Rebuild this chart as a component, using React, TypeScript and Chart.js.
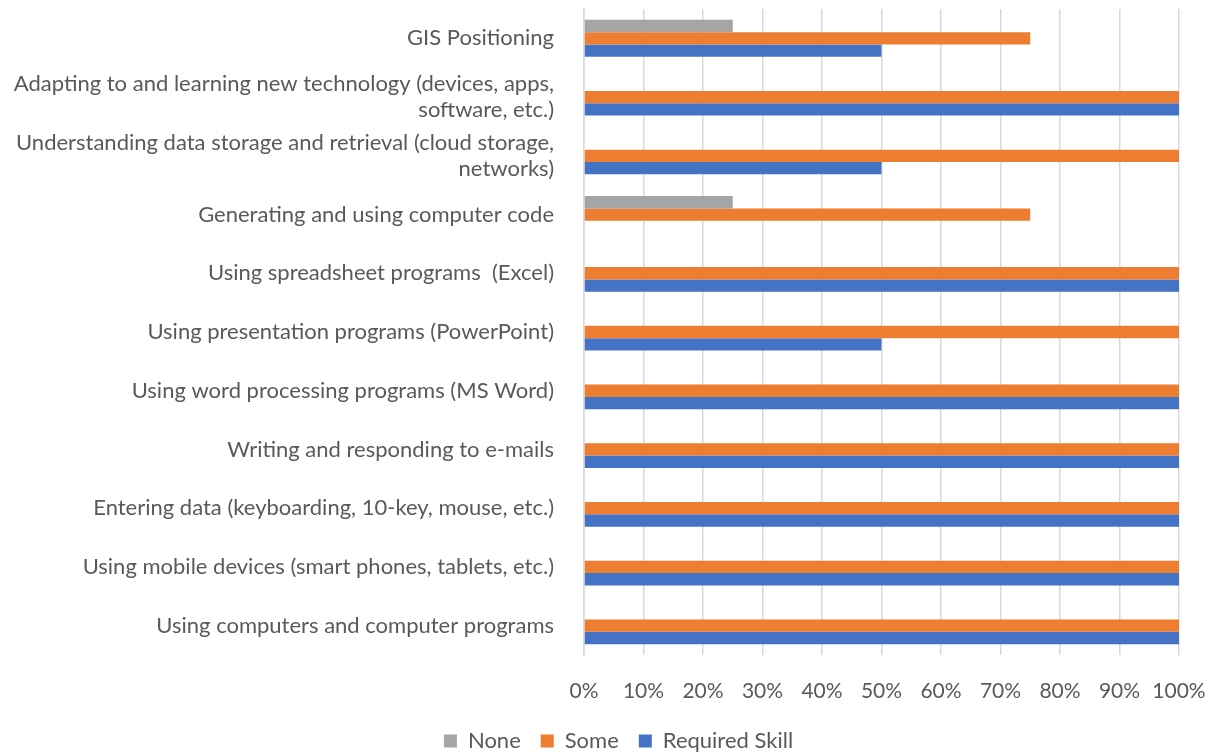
import React, { useEffect, useRef } from "react";
import { Chart, registerables } from "chart.js";

Chart.register(...registerables);

const categories: (string | string[])[] = [
  "GIS Positioning",
  ["Adapting to and learning new technology (devices, apps,", "software, etc.)"],
  ["Understanding data storage and retrieval (cloud storage,", "networks)"],
  "Generating and using computer code",
  "Using spreadsheet programs  (Excel)",
  "Using presentation programs (PowerPoint)",
  "Using word processing programs (MS Word)",
  "Writing and responding to e-mails",
  "Entering data (keyboarding, 10-key, mouse, etc.)",
  "Using mobile devices (smart phones, tablets, etc.)",
  "Using computers and computer programs",
];

const noneValues = [25, 0, 0, 25, 0, 0, 0, 0, 0, 0, 0];
const someValues = [75, 100, 100, 75, 100, 100, 100, 100, 100, 100, 100];
const requiredValues = [50, 100, 50, 0, 100, 50, 100, 100, 100, 100, 100];

const FONT = "Lato, 'Noto Sans', sans-serif";
const TEXT = "#595959";

const legendShift = {
  id: "legendShift",
  afterLayout(chart: any) {
    if (chart.legend) {
      chart.legend.left += 29;
      chart.legend.right += 29;
    }
  },
};

export default function App() {
  const ref = useRef<HTMLCanvasElement | null>(null);
  useEffect(() => {
    if (!ref.current) return;
    const chart = new Chart(ref.current, {
      type: "bar",
      data: {
        labels: categories,
        datasets: [
          { label: "None", data: noneValues, backgroundColor: "#A5A5A5" },
          { label: "Some", data: someValues, backgroundColor: "#ED7D31" },
          { label: "Required Skill", data: requiredValues, backgroundColor: "#4472C4" },
        ],
      },
      options: {
        indexAxis: "y",
        responsive: false,
        animation: false,
        layout: { padding: { top: 9, right: 35, left: 0, bottom: -8 } },
        datasets: {
          bar: { categoryPercentage: 0.63, barPercentage: 1 },
        },
        scales: {
          x: {
            min: 0,
            max: 100,
            ticks: {
              stepSize: 10,
              color: TEXT,
              font: { family: FONT, size: 21 },
              padding: 24,
              callback: (v: any) => v + "%",
            },
            grid: { color: "#D9D9D9", lineWidth: 1.5, drawTicks: false },
            border: { display: false },
            afterFit: (s: any) => {
              s.height = 55;
              s.paddingLeft = 0;
              s.paddingRight = 0;
            },
          } as any,
          y: {
            ticks: {
              color: TEXT,
              font: { family: FONT, size: 22, lineHeight: 1.2 },
              padding: 22,
              autoSkip: false,
            },
            grid: { display: false },
            border: { display: true, color: "#D9D9D9", width: 1.5 },
            afterFit: (s: any) => {
              s.width = 584;
              s.paddingTop = 0;
              s.paddingBottom = 0;
            },
          } as any,
        },
        plugins: {
          legend: {
            position: "bottom",
            labels: {
              color: TEXT,
              font: { family: FONT, size: 22 },
              boxWidth: 13,
              boxHeight: 13,
              padding: 20,
            },
          },
          tooltip: { enabled: false },
        },
      },
      plugins: [legendShift],
    });
    return () => chart.destroy();
  }, []);
  return (
    <div style={{ position: "fixed", left: 0, top: 0, width: 1214, height: 754, background: "#fff" }}>
      <canvas ref={ref} width={1214} height={754} style={{ width: 1214, height: 754 }} />
    </div>
  );
}
